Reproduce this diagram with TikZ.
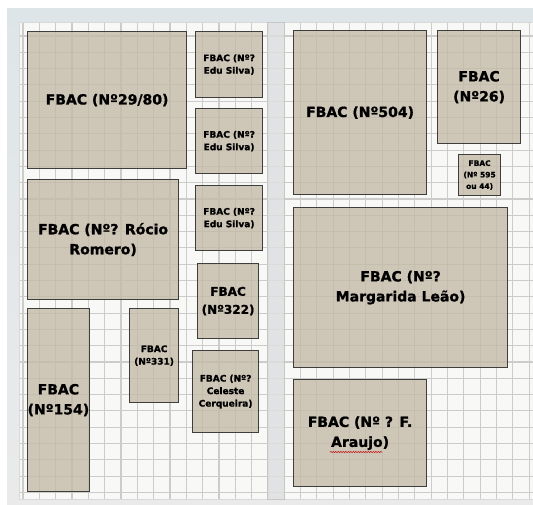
\documentclass[tikz,border=0pt]{standalone}
\usepackage{fontspec}
\setmainfont{DejaVu Sans}[BoldFeatures={FakeBold=1.2}]
\usetikzlibrary{decorations.pathmorphing}

\definecolor{frameblue}{RGB}{222,229,233}
\definecolor{framegray}{RGB}{234,234,234}
\definecolor{paper}{RGB}{248,248,246}
\definecolor{gridline}{RGB}{204,204,202}
\definecolor{lotfill}{RGB}{196,186,166}
\definecolor{lotline}{RGB}{62,62,60}
\definecolor{divider}{RGB}{221,223,224}

\tikzset{
  lot/.style={draw=lotline, line width=1.2pt, fill=lotfill, fill opacity=0.8,
    text opacity=1, anchor=north west, inner sep=0pt, align=center, text=black},
  big/.style={font=\bfseries\fontsize{14}{20}\selectfont},
  small/.style={font=\bfseries\fontsize{9}{12.5}\selectfont},
}

\begin{document}
\begin{tikzpicture}[x=1pt,y=-1pt]
\useasboundingbox (0,0) rectangle (533,504);
\fill[white] (0,0) rectangle (533,504);

% ===== Moldura e papel quadriculado =====
\shade[top color=frameblue, bottom color=framegray] (7,8) rectangle (533,504);
\fill[paper] (19,22) rectangle (533,499);

\foreach \i in {0,...,31} {
    \draw[gridline, line width=1.1pt] ({23+16.33*\i},22) -- ++(0,477);
}
\foreach \j in {0,...,28} {
    \draw[gridline, line width=1.1pt] (19,{36+16.3*\j}) -- (533,{36+16.3*\j});
}
\draw[gray!30] (19,22) rectangle (533,499);

% ===== Corredor =====
\draw[fill=divider, fill opacity=0.85, draw=gray!45] (267,22) rectangle (284,499);

% ===== Lado esquerdo =====
\node[lot, big, minimum width=159pt, minimum height=137pt] (n2980) at (27,31) {FBAC (Nº29/80)};
\node[lot, small, minimum width=67pt, minimum height=66pt] (edua) at (195,31) {FBAC (Nº?\\Edu Silva)};
\node[lot, small, minimum width=67pt, minimum height=65pt] (edub) at (195,108) {FBAC (Nº?\\Edu Silva)};
\node[lot, small, minimum width=67pt, minimum height=65pt] (educ) at (195,185) {FBAC (Nº?\\Edu Silva)};
\node[lot, big, minimum width=151pt, minimum height=120pt] (romero) at (27,179) {FBAC (Nº? Rócio\\Romero)};
\node[lot, big, minimum width=61pt, minimum height=183pt] (n154) at (27,308) {FBAC\\(Nº154)};
\node[lot, small, minimum width=49pt, minimum height=94pt] (n331) at (129,308) {FBAC\\(Nº331)};
\node[lot, font=\bfseries\fontsize{12}{18}\selectfont, minimum width=61pt, minimum height=75pt] (n322) at (197,263) {FBAC\\(Nº322)};
\node[lot, small, minimum width=66pt, minimum height=82pt] (celeste) at (192,350) {FBAC (Nº?\\Celeste\\Cerqueira)};

% ===== Lado direito =====
\node[lot, big, minimum width=133pt, minimum height=164pt] (n504) at (293,30) {FBAC (Nº504)};
\node[lot, big, minimum width=83pt, minimum height=113pt] (n26) at (437,30) {FBAC\\(Nº26)};
\node[lot, font=\bfseries\fontsize{7.5}{11.5}\selectfont, minimum width=42pt, minimum height=41pt] (n595) at (458,154) {FBAC\\(Nº 595\\ou 44)};
\node[lot, big, minimum width=214pt, minimum height=160pt] (leao) at (293,207) {FBAC (Nº?\\Margarida Leão)};
\node[lot, big, minimum width=133pt, minimum height=107pt] (araujo) at (293,379) {FBAC (Nº ? F.\\Araujo)};

% sublinhado do corretor
\draw[red!75!black, line width=0.5pt, decorate,
  decoration={snake, amplitude=0.6pt, segment length=2.5pt}] (330,452) -- (382,452);

\end{tikzpicture}
\end{document}
